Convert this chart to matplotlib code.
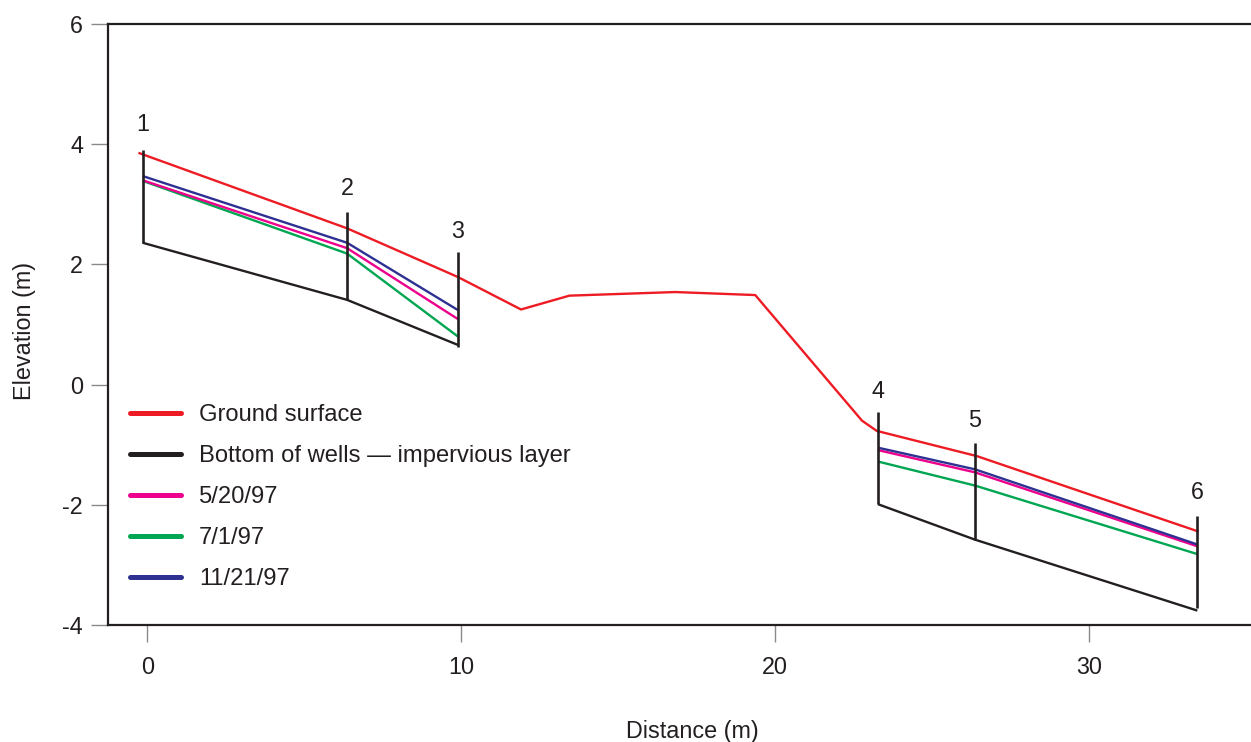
import numpy as np
import matplotlib
matplotlib.use("Agg")
import matplotlib.pyplot as plt

plt.rcParams['font.family'] = ['Liberation Sans', 'DejaVu Sans']
plt.rcParams['axes.unicode_minus'] = False

# well positions and numbers
well_x = [-0.15, 6.36, 9.89, 23.27, 26.36, 33.44]
well_names = ['1', '2', '3', '4', '5', '6']
well_top = [3.90, 2.88, 2.20, -0.46, -0.98, -2.18]
well_bottom = [2.36, 1.41, 0.62, -1.99, -2.58, -3.72]
label_y = [4.32, 3.27, 2.55, -0.12, -0.60, -1.79]

# ground surface profile
ground_x = [-0.25, 6.36, 9.89, 11.9, 13.44, 16.81, 19.36, 22.76, 23.23, 26.42, 33.45]
ground_y = [3.85, 2.60, 1.79, 1.25, 1.48, 1.54, 1.49, -0.60, -0.77, -1.19, -2.44]

# bottom of wells (impervious layer)
bottom_y = [2.36, 1.41, 0.66, -1.99, -2.58, -3.76]

# water levels at each well
wl_0520 = [3.40, 2.27, 1.09, -1.09, -1.46, -2.69]
wl_0701 = [3.39, 2.18, 0.80, -1.28, -1.68, -2.82]
wl_1121 = [3.47, 2.36, 1.24, -1.05, -1.41, -2.66]

RED = '#ED1C24'
BLACK = '#231F20'
MAGENTA = '#EC008C'
GREEN = '#00A651'
BLUE = '#2E3192'

fig = plt.figure(figsize=(12.51, 7.42), dpi=100)
ax = fig.add_axes([108 / 1251, 1 - 625 / 742, 1 - 108 / 1251, 601 / 742])

fs = 16.8
lw = 1.7

def two_groups(y, color, z):
    for s in (slice(0, 3), slice(3, 6)):
        ax.plot(well_x[s], y[s], color=color, lw=lw, zorder=z, solid_capstyle='butt')

two_groups(bottom_y, BLACK, 3)
two_groups(wl_0701, GREEN, 4)
two_groups(wl_0520, MAGENTA, 5)
two_groups(wl_1121, BLUE, 6)
ax.plot(ground_x, ground_y, color=RED, lw=lw, zorder=7)
ax.vlines(well_x, well_bottom, well_top, color=BLACK, lw=1.9, zorder=8)

for x, y, s in zip(well_x, label_y, well_names):
    ax.text(x, y, s, ha='center', va='center', fontsize=fs, color=BLACK)

# legend
handles = [plt.Line2D([], [], color=c, lw=3.6, solid_capstyle='round')
           for c in (RED, BLACK, MAGENTA, GREEN, BLUE)]
names = ['Ground surface', 'Bottom of wells \u2014 impervious layer',
         '5/20/97', '7/1/97', '11/21/97']
ax.legend(handles, names, loc='upper left', bbox_to_anchor=(0.019, 0.368),
          frameon=False, fontsize=17.1, handlelength=2.15, handletextpad=0.77,
          labelspacing=0.8, borderpad=0, borderaxespad=0, labelcolor=BLACK)

ax.set_xlim(-1.255, 35.15)
ax.set_ylim(-4, 6)
ax.set_xticks([0, 10, 20, 30])
ax.set_yticks([-4, -2, 0, 2, 4, 6])

for side in ('left', 'top', 'bottom'):
    ax.spines[side].set_color(BLACK)
    ax.spines[side].set_linewidth(1.6)
ax.spines['right'].set_visible(False)

ax.tick_params(axis='both', direction='out', length=12, width=1,
               color='#8a8a8a', labelsize=fs, labelcolor=BLACK)
ax.tick_params(axis='y', pad=6)
ax.tick_params(axis='x', pad=10)

ax.set_xlabel('Distance (m)', fontsize=fs, color=BLACK)
ax.set_ylabel('Elevation (m)', fontsize=fs, color=BLACK)
ax.xaxis.set_label_coords(0.511, -0.158)
ax.yaxis.set_label_coords(-0.063, 0.49)

fig.savefig('out.png', dpi=100)
